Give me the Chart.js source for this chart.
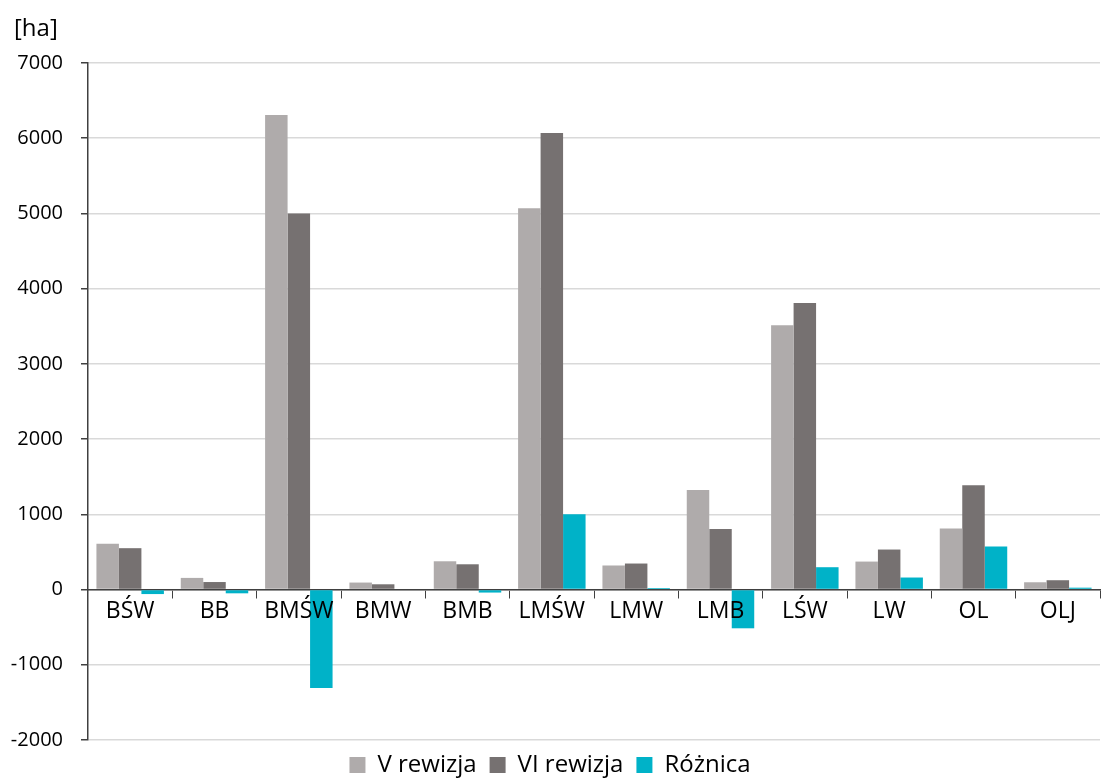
<!DOCTYPE html>
<html>
<head>
<meta charset="utf-8">
<script src="https://cdn.jsdelivr.net/npm/chart.js@4.4.1/dist/chart.umd.min.js"></script>
<style>
    html, body { margin: 0; padding: 0; background: #ffffff; }
    #wrap { width: 1105px; height: 778px; }
</style>
</head>
<body>
<div id="wrap"><canvas id="myChart"></canvas></div>
<script>
// Categories and values (hectares)
const categories = ['BŚW', 'BB', 'BMŚW', 'BMW', 'BMB', 'LMŚW', 'LMW', 'LMB', 'LŚW', 'LW', 'OL', 'OLJ'];
const rewizja5 = [610, 155, 6310, 93, 376, 5070, 320, 1325, 3515, 372, 811, 97];
const rewizja6 = [550, 100, 5000, 70, 336, 6070, 346, 806, 3811, 532, 1385, 124];
const roznica = [-60, -50, -1310, -10, -40, 1000, 20, -515, 297, 160, 572, 25];
const seriesNames = ['V rewizja', 'VI rewizja', 'Różnica'];
const yMin = -2000;
const yMax = 7000;
const yStep = 1000;
const unitLabel = '[ha]';

const fontFamily = "'Open Sans', sans-serif";

// Small plugin to write the unit above the y axis
const unitPlugin = {
    id: 'unitLabel',
    afterDraw(chart) {
        const ctx = chart.ctx;
        ctx.save();
        ctx.font = '24px ' + fontFamily;
        ctx.fillStyle = '#000000';
        ctx.textAlign = 'left';
        ctx.textBaseline = 'middle';
        ctx.fillText(unitLabel, chart.chartArea.left - 74, chart.chartArea.top - 34);
        ctx.restore();
    }
};

const ctx = document.getElementById('myChart').getContext('2d');

new Chart(ctx, {
    type: 'bar',
    data: {
        labels: categories,
        datasets: [{
            label: seriesNames[0],
            data: rewizja5,
            backgroundColor: '#AFABAB',
            borderWidth: 0
        }, {
            label: seriesNames[1],
            data: rewizja6,
            backgroundColor: '#767171',
            borderWidth: 0
        }, {
            label: seriesNames[2],
            data: roznica,
            backgroundColor: '#00B2C8',
            borderWidth: 0
        }]
    },
    options: {
        responsive: true,
        maintainAspectRatio: false,
        animation: false,
        layout: {
            padding: { left: 0, right: 5, top: 63, bottom: -9 }
        },
        datasets: {
            bar: {
                categoryPercentage: 0.8,
                barPercentage: 1.0
            }
        },
        plugins: {
            legend: {
                position: 'bottom',
                labels: {
                    font: { family: fontFamily, size: 24, lineHeight: 0.667 },
                    color: '#000000',
                    boxWidth: 16,
                    boxHeight: 16,
                    padding: 13
                }
            },
            tooltip: { enabled: false }
        },
        scales: {
            x: {
                position: { y: 0 },
                offset: true,
                grid: {
                    offset: true,
                    drawOnChartArea: false,
                    drawTicks: true,
                    tickLength: 8,
                    tickColor: '#404040'
                },
                border: { color: '#404040', width: 1.5 },
                ticks: {
                    z: 1,
                    font: { family: fontFamily, size: 23 },
                    color: '#000000',
                    padding: 0
                }
            },
            y: {
                min: yMin,
                max: yMax,
                afterFit(scale) { scale.width = 88; },
                grid: {
                    color: '#D9D9D9',
                    lineWidth: 1.5,
                    tickLength: 7,
                    tickColor: '#404040'
                },
                border: { color: '#404040', width: 1.5 },
                ticks: {
                    stepSize: yStep,
                    font: { family: fontFamily, size: 20 },
                    color: '#000000',
                    padding: 18,
                    callback: value => String(value)
                }
            }
        }
    },
    plugins: [unitPlugin]
});
</script>
</body>
</html>
